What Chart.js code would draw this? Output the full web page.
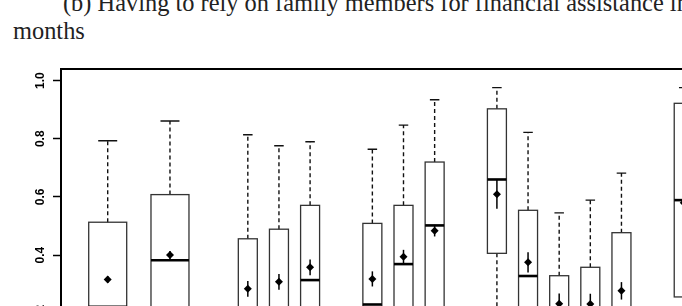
<!DOCTYPE html>
<html>
<head>
<meta charset="utf-8">
<script src="https://cdn.jsdelivr.net/npm/chart.js@4"></script>
<style>
    html, body { margin: 0; padding: 0; background: #fff; width: 682px; height: 306px; overflow: hidden; }
    .caption {
        position: absolute; left: 13px; top: -11px;
        font-family: "Liberation Serif", "Times New Roman", serif;
        font-size: 24.4px; line-height: 28px; color: #222; white-space: nowrap;
    }
    .caption .l1 { padding-left: 50px; }
    .contenidor { position: absolute; left: 0; top: 0; width: 760px; height: 400px; }
</style>
</head>
<body>
<div class="caption">
    <div class="l1">(b) Having to rely on family members for financial assistance in the last 12</div>
    <div>months</div>
</div>
<div class="contenidor"><canvas id="myChart"></canvas></div>
<script>
// box positions on the x axis (groups of 2, 3, 3, 5, ...)
const boxPos = [1.5, 3.5, 6, 7, 8, 10, 11, 12, 14, 15, 16, 17, 18, 20];
const whiskerHigh = [0.793, 0.861, 0.814, 0.776, 0.790, 0.764, 0.847, 0.934, 0.976, 0.822, 0.545, 0.589, 0.682, 0.976];
const q3Vals = [0.513, 0.608, 0.456, 0.489, 0.571, 0.509, 0.571, 0.720, 0.903, 0.554, 0.329, 0.358, 0.477, 0.922];
const medianVals = [0.222, 0.382, 0.20, 0.18, 0.314, 0.230, 0.369, 0.502, 0.660, 0.328, 0.15, 0.12, 0.18, 0.589];
const q1Vals = [0.10, 0.20, 0.08, 0.06, 0.12, 0.02, 0.18, 0.20, 0.406, 0.12, 0.05, 0.03, 0.06, 0.256];
const whiskerLow = [0, 0, 0, 0, 0, 0, 0, 0, 0.10, 0, 0, 0, 0, 0];
const meanVals = [0.316, 0.400, 0.284, 0.308, 0.358, 0.318, 0.394, 0.484, 0.609, 0.375, 0.233, 0.232, 0.277, 0.580];
const meanErr = [0.012, 0.014, 0.027, 0.027, 0.027, 0.026, 0.024, 0.020, 0.050, 0.035, 0.035, 0.035, 0.030, 0.020];

const yTickValues = [0, 0.2, 0.4, 0.6, 0.8, 1.0];
const yTickLabels = ['0.0', '0.2', '0.4', '0.6', '0.8', '1.0'];

const wideBoxes = 2; // first group drawn wider

const boxPlugin = {
    id: 'boxes',
    beforeDatasetsDraw(chart) {
        const { ctx, scales: { x, y } } = chart;
        ctx.save();
        boxPos.forEach((p, i) => {
            const w = i < wideBoxes ? 1.22 : 0.61;
            const xl = x.getPixelForValue(p - w / 2);
            const xr = x.getPixelForValue(p + w / 2);
            const xc = x.getPixelForValue(p);
            const cap = (xr - xl) / 4;
            const yHi = y.getPixelForValue(whiskerHigh[i]);
            const yLo = y.getPixelForValue(whiskerLow[i]);
            const yQ3 = y.getPixelForValue(q3Vals[i]);
            const yQ1 = y.getPixelForValue(q1Vals[i]);
            const yMed = y.getPixelForValue(medianVals[i]);

            //whiskers
            ctx.strokeStyle = '#111';
            ctx.lineWidth = 1.4;
            ctx.setLineDash([4, 3]);
            ctx.beginPath();
            ctx.moveTo(xc, yQ3); ctx.lineTo(xc, yHi);
            ctx.moveTo(xc, yQ1); ctx.lineTo(xc, yLo);
            ctx.stroke();
            ctx.setLineDash([]);
            ctx.beginPath();
            ctx.moveTo(xc - cap, yHi); ctx.lineTo(xc + cap, yHi);
            ctx.moveTo(xc - cap, yLo); ctx.lineTo(xc + cap, yLo);
            ctx.stroke();

            //box
            ctx.strokeStyle = '#333';
            ctx.lineWidth = 1.3;
            ctx.strokeRect(xl, yQ3, xr - xl, yQ1 - yQ3);

            //median
            ctx.strokeStyle = '#000';
            ctx.lineWidth = 2.6;
            ctx.beginPath();
            ctx.moveTo(xl, yMed); ctx.lineTo(xr, yMed);
            ctx.stroke();

            //error bar of the mean
            ctx.lineWidth = 1.5;
            ctx.beginPath();
            ctx.moveTo(xc, y.getPixelForValue(meanVals[i] + meanErr[i]));
            ctx.lineTo(xc, y.getPixelForValue(meanVals[i] - meanErr[i]));
            ctx.stroke();
        });
        ctx.restore();
    },
    afterDraw(chart) {
        const { ctx, chartArea, scales: { y } } = chart;
        ctx.save();
        ctx.strokeStyle = '#000';
        ctx.lineWidth = 2;
        ctx.strokeRect(chartArea.left, chartArea.top, chartArea.right - chartArea.left, chartArea.bottom - chartArea.top);

        ctx.fillStyle = '#000';
        ctx.font = 'bold 12px "Liberation Sans", Arial, sans-serif';
        ctx.textAlign = 'center';
        ctx.textBaseline = 'middle';
        yTickValues.forEach((v, i) => {
            ctx.save();
            ctx.translate(41, y.getPixelForValue(v));
            ctx.rotate(-Math.PI / 2);
            ctx.fillText(yTickLabels[i], 0, 0);
            ctx.restore();
        });
        ctx.restore();
    }
};

const myChart = () => {
    const ctx = document.getElementById('myChart').getContext('2d');
    new Chart(ctx, {
        type: 'scatter',
        data: {
            datasets: [{
                label: 'mean',
                data: boxPos.map((p, i) => ({ x: p, y: meanVals[i] })),
                pointStyle: 'rectRot',
                pointRadius: 4,
                backgroundColor: '#000',
                borderColor: '#000',
                borderWidth: 0,
                clip: false
            }]
        },
        options: {
            responsive: true,
            maintainAspectRatio: false,
            animation: false,
            layout: { padding: { left: 0, top: 69, right: 14, bottom: 17 } },
            plugins: { legend: { display: false }, tooltip: { enabled: false } },
            scales: {
                x: { type: 'linear', min: 0, max: 22, display: false },
                y: {
                    min: -0.04,
                    max: 1.04,
                    afterBuildTicks: (scale) => { scale.ticks = yTickValues.map(v => ({ value: v })); },
                    afterFit: (scale) => { scale.width = 61; },
                    border: { display: false },
                    grid: { drawOnChartArea: false, drawTicks: true, tickLength: 8, tickColor: '#000', tickWidth: 1.5 },
                    ticks: { display: false }
                }
            }
        },
        plugins: [boxPlugin]
    });
};

document.addEventListener('DOMContentLoaded', () => {
    myChart();
});
</script>
</body>
</html>
